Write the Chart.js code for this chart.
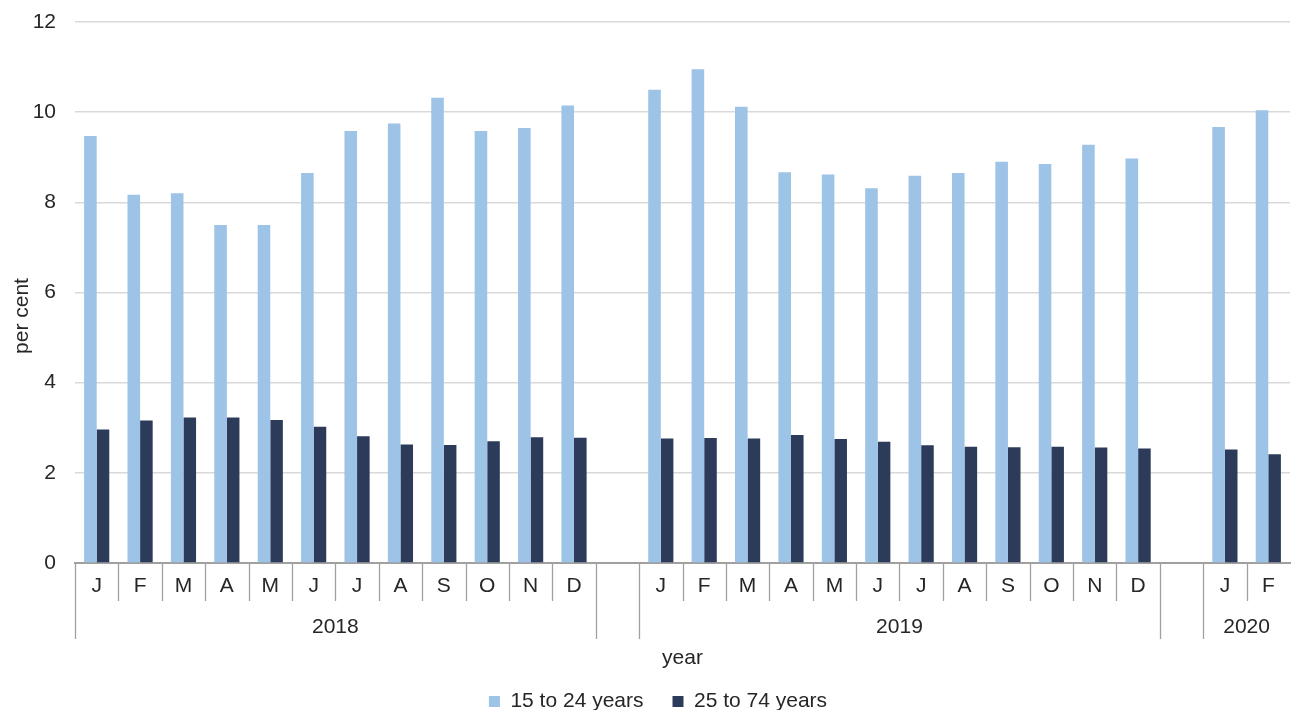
<!DOCTYPE html>
<html>
<head>
<meta charset="utf-8">
<script src="https://cdn.jsdelivr.net/npm/chart.js@4"></script>
<style>
  html, body { margin: 0; padding: 0; background: #fff; }
  #wrap { width: 1292px; height: 710px; }
</style>
</head>
<body>
<div id="wrap"><canvas id="rateChart"></canvas></div>
<script>
// months per category, '' = empty spacer between years
const months = ['J','F','M','A','M','J','J','A','S','O','N','D','',
                'J','F','M','A','M','J','J','A','S','O','N','D','',
                'J','F'];
// year row: label and how many categories it covers
const yearLabels = ['2018', '', '2019', '', '2020'];
const yearSpans = [12, 1, 12, 1, 2];

const youth = [9.47, 8.17, 8.2, 7.5, 7.5, 8.65, 9.58, 9.75, 10.32, 9.58, 9.65, 10.15, null,
               10.5, 10.95, 10.12, 8.67, 8.62, 8.31, 8.59, 8.65, 8.9, 8.85, 9.28, 8.97, null,
               9.67, 10.04];
const adults = [2.96, 3.16, 3.23, 3.23, 3.17, 3.02, 2.81, 2.63, 2.62, 2.7, 2.79, 2.78, null,
                2.76, 2.77, 2.76, 2.84, 2.75, 2.69, 2.61, 2.58, 2.57, 2.58, 2.56, 2.54, null,
                2.52, 2.41];

const yTicks = [0, 2, 4, 6, 8, 10, 12];

const FONT = '"Liberation Sans", Arial, sans-serif';
const FS = 21;
const TXT = '#262626';

// draws the month separators, the year row and the axis titles
const groupAxis = {
    id: 'groupAxis',
    afterLayout(chart) {
        // legend sits a little right of centre in the original
        chart.legend.left += 13;
        chart.legend.right += 13;
    },
    afterDraw(chart) {
        const x = chart.scales.x;
        const ctx = chart.ctx;
        const half = (x.getPixelForValue(1) - x.getPixelForValue(0)) / 2;
        const top = x.top;
        const starts = [];
        let n = 0;
        yearSpans.forEach(s => { starts.push(n); n += s; });

        ctx.save();
        ctx.strokeStyle = '#a0a0a0';
        ctx.lineWidth = 1.3;
        for (let i = 0; i < months.length; i++) {
            const px = Math.round(x.getPixelForValue(i) - half) + 0.5;
            const long = starts.includes(i);
            ctx.beginPath();
            ctx.moveTo(px, top);
            ctx.lineTo(px, top + (long ? 76 : 38));
            ctx.stroke();
        }
        ctx.fillStyle = TXT;
        ctx.font = FS + 'px ' + FONT;
        ctx.textAlign = 'center';
        ctx.textBaseline = 'middle';
        yearLabels.forEach((lab, k) => {
            if (!lab) return;
            const a = x.getPixelForValue(starts[k]) - half;
            const b = x.getPixelForValue(starts[k] + yearSpans[k] - 1) + half;
            ctx.fillText(lab, (a + b) / 2, top + 64);
        });
        ctx.fillText('year', (x.left + x.right) / 2, top + 95);

        ctx.translate(22, 316);
        ctx.rotate(-Math.PI / 2);
        ctx.fillText('per cent', 0, 0);
        ctx.restore();
    }
};

const ctx = document.getElementById('rateChart').getContext('2d');
const rateChart = new Chart(ctx, {
    type: 'bar',
    data: {
        labels: months,
        datasets: [{
            label: '15 to 24 years',
            data: youth,
            backgroundColor: '#9dc3e6',
            categoryPercentage: 0.58,
            barPercentage: 1.0
        }, {
            label: '25 to 74 years',
            data: adults,
            backgroundColor: '#2c3b5a',
            categoryPercentage: 0.58,
            barPercentage: 1.0
        }]
    },
    options: {
        responsive: true,
        maintainAspectRatio: false,
        animation: false,
        layout: { padding: { left: 0, right: 2, top: 22, bottom: -12 } },
        plugins: {
            legend: {
                position: 'bottom',
                labels: {
                    color: TXT,
                    font: { family: FONT, size: FS },
                    boxWidth: 11,
                    boxHeight: 11,
                    padding: 29
                }
            },
            tooltip: { enabled: false }
        },
        scales: {
            x: {
                grid: { display: false },
                border: { display: true, color: '#a0a0a0', width: 2 },
                ticks: {
                    color: TXT,
                    font: { family: FONT, size: FS },
                    padding: 3,
                    autoSkip: false,
                    maxRotation: 0
                },
                afterFit(scale) {
                    scale.height = 99;
                }
            },
            y: {
                min: 0,
                max: 12,
                afterBuildTicks(scale) {
                    scale.ticks = yTicks.map(v => ({ value: v }));
                },
                afterFit(scale) {
                    scale.width = 75;
                    scale.paddingTop = 0;
                    scale.paddingBottom = 0;
                },
                grid: { color: '#d9d9d9', lineWidth: 1.5, drawTicks: false },
                border: { display: false },
                ticks: {
                    color: TXT,
                    font: { family: FONT, size: FS },
                    padding: 19
                }
            }
        }
    },
    plugins: [groupAxis]
});
</script>
</body>
</html>
